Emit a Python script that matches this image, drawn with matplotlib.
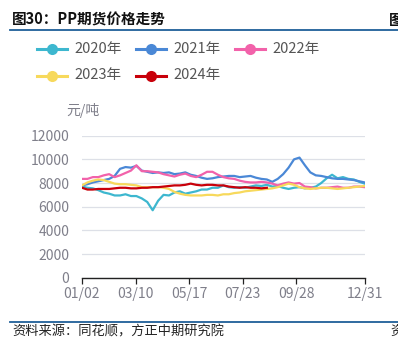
import numpy as np
import matplotlib
matplotlib.use("Agg")
import matplotlib.pyplot as plt
from matplotlib.lines import Line2D

plt.rcParams['font.family'] = ['Noto Sans CJK SC', 'DejaVu Sans']

# ---- data (weekly samples, trading-day index axis 0..243) ----
years = ['2020年', '2021年', '2022年', '2023年', '2024年']
colors = ['#3DB7CF', '#4A88D6', '#F262AA', '#F7D95C', '#C8000A']

y2020 = [7700, 7600, 7550, 7400, 7200, 7100, 6950, 6950, 7050, 6900, 6900, 6700, 6400, 5700,
         6500, 7000, 6950, 7200, 7300, 7100, 7200, 7300, 7450, 7450, 7600, 7600, 7800,
         7650, 7600, 7650, 7600, 7700, 7800, 7750, 7850, 7700, 7750, 7600, 7500, 7600,
         7650, 7550, 7600, 7700, 8000, 8400, 8700, 8400, 8500, 8350, 8300, 8100, 7950]
y2021 = [7800, 7900, 8050, 8150, 8250, 8350, 8600, 9200, 9350, 9300, 9450, 9050, 8950, 8850,
         8900, 8850, 8900, 8750, 8800, 8900, 8700, 8600, 8450, 8350, 8400, 8500, 8550,
         8600, 8600, 8500, 8550, 8600, 8450, 8350, 8300, 8100, 8350, 8750, 9300, 10000,
         10150, 9500, 8900, 8650, 8600, 8500, 8400, 8350, 8350, 8300, 8250, 8150, 8050]
y2022 = [8350, 8350, 8500, 8500, 8650, 8750, 8500, 8650, 8850, 9050, 9500, 9000, 9000, 8950,
         8900, 8750, 8650, 8550, 8700, 8800, 8600, 8500, 8700, 8950, 8950, 8700, 8500,
         8400, 8350, 8200, 8100, 8050, 8050, 8100, 8050, 7950, 7800, 7950, 8050, 7950,
         8000, 7700, 7650, 7550, 7600, 7600, 7650, 7700, 7600, 7600, 7700, 7700, 7650]
y2023 = [7800, 8050, 8200, 8300, 8250, 8100, 7950, 7900, 7900, 7850, 7800, 7650, 7650, 7650,
         7650, 7600, 7500, 7250, 7100, 7000, 6950, 6950, 6950, 7000, 7000, 6950, 7050,
         7050, 7150, 7200, 7300, 7350, 7400, 7450, 7500, 7550, 7650, 7800, 7950, 7850,
         7650, 7550, 7500, 7550, 7600, 7600, 7550, 7500, 7550, 7600, 7650, 7700, 7750]
y2024 = [7600, 7450, 7450, 7500, 7500, 7500, 7550, 7600, 7600, 7550, 7550, 7600, 7600, 7650,
         7650, 7700, 7750, 7800, 7800, 7850, 7950, 7850, 7800, 7850, 7850, 7800, 7800,
         7700, 7650, 7600, 7650, 7600, 7600, 7550, 7600]
series = [y2020, y2021, y2022, y2023, y2024]

n_days = 243
tick_pos = [0, 46, 92, 138, 184, 243]
tick_labels = ['01/02', '03/10', '05/17', '07/23', '09/28', '12/31']
y_ticks = [0, 2000, 4000, 6000, 8000, 10000, 12000]

W, H = 398, 344
fig = plt.figure(figsize=(W / 100, H / 100), dpi=100)
ax = fig.add_axes([82 / W, (H - 277.7) / H, (364.7 - 82) / W, (277.7 - 135.7) / H])

week_pos = np.linspace(0, n_days, len(y2020))
for vals, c in zip(series, colors):
    ax.plot(week_pos[:len(vals)], vals, color=c, lw=1.6, solid_joinstyle='round', zorder=3)

ax.set_xlim(0, n_days)
ax.set_ylim(0, 12000)
ax.set_yticks(y_ticks)
ax.set_yticklabels([str(v) for v in y_ticks])
ax.set_xticks(tick_pos)
ax.set_xticklabels(tick_labels)
ax.grid(axis='y', color='#DDE0E7', lw=0.9, zorder=0)
ax.set_axisbelow(True)
for s in ['left', 'right', 'top']:
    ax.spines[s].set_visible(False)
ax.spines['bottom'].set_color('#222222')
ax.spines['bottom'].set_linewidth(1.0)
ax.tick_params(axis='y', length=0, pad=9, labelsize=10, labelcolor='#7F7F8A')
ax.tick_params(axis='x', length=4, width=0.9, color='#222222', pad=3,
               labelsize=10, labelcolor='#7F7F8A')

# unit label
fig.text(83 / W, 1 - 110 / H, '元/吨', ha='center', va='center', fontsize=10, color='#7F7F8A')

# legend (manual)
leg_pos = [(37, 49), (136, 49), (235, 49), (37, 75.5), (136, 75.5)]
for (lx, ly), lab, c in zip(leg_pos, years, colors):
    fy = 1 - ly / H
    fig.add_artist(Line2D([lx / W, (lx + 30) / W], [fy, fy], color=c, lw=2.2,
                          marker=None, transform=fig.transFigure))
    fig.add_artist(Line2D([(lx + 15) / W], [fy], color=c, marker='o', markersize=8,
                          markeredgewidth=0, transform=fig.transFigure))
    fig.text((lx + 37) / W, fy, lab, ha='left', va='center', fontsize=10.5, color='#555555')

# title and rules
fig.text(12 / W, 1 - 19.5 / H, '图30：PP期货价格走势', ha='left', va='center',
         fontsize=10.5, fontweight='bold', color='#111111')
fig.text(389 / W, 1 - 19.5 / H, '图', ha='left', va='center',
         fontsize=10.5, fontweight='bold', color='#111111')
fig.add_artist(Line2D([10 / W, 1], [1 - 30 / H, 1 - 30 / H], color='#1F5F99', lw=1.3,
                      transform=fig.transFigure))
fig.add_artist(Line2D([10 / W, 1], [1 - 322 / H, 1 - 322 / H], color='#1F5F99', lw=1.3,
                      transform=fig.transFigure))
fig.text(12 / W, 1 - 331.5 / H, '资料来源：同花顺，方正中期研究院', ha='left', va='center',
         fontsize=9.5, style='italic', color='#222222')
fig.text(390 / W, 1 - 331.5 / H, '资', ha='left', va='center',
         fontsize=9.5, style='italic', color='#222222')

fig.savefig('out.png', dpi=100)
